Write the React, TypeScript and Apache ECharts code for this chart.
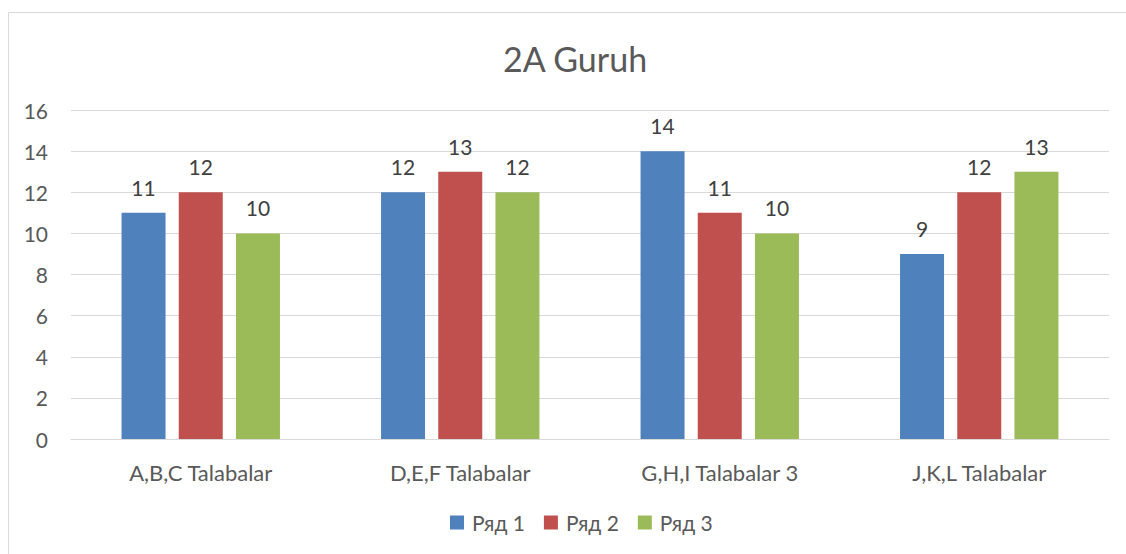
import React, { useEffect, useRef } from "react";
import * as echarts from "echarts";

const categories = ["A,B,C Talabalar", "D,E,F Talabalar", "G,H,I Talabalar 3", "J,K,L Talabalar"];
const seriesNames = ["Ряд 1", "Ряд 2", "Ряд 3"];
const series1 = [11, 12, 14, 9];
const series2 = [12, 13, 11, 12];
const series3 = [10, 12, 10, 13];
const colors = ["#4F81BD", "#C0504D", "#9BBB59"];
const FONT = "Lato, 'Open Sans', 'Noto Sans', sans-serif";

export default function App() {
  const ref = useRef<HTMLDivElement>(null);
  useEffect(() => {
    document.body.style.margin = "0";
    if (!ref.current) return;
    const chart = echarts.init(ref.current, null, { renderer: "svg" });
    const data = [series1, series2, series3];
    chart.setOption({
      animation: false,
      backgroundColor: "#ffffff",
      title: {
        text: "2A Guruh",
        left: 498,
        top: 36,
        textStyle: { fontFamily: FONT, fontSize: 34, fontWeight: "normal", color: "#595959" },
      },
      graphic: [
        {
          type: "rect",
          shape: { x: 8.5, y: 12.5, width: 1130, height: 560 },
          style: { fill: "none", stroke: "#d9d9d9", lineWidth: 1 },
          silent: true,
          z: -1,
        },
      ],
      legend: {
        bottom: 16,
        left: 445,
        itemWidth: 14,
        itemHeight: 14,
        itemGap: 19,
        icon: "rect",
        textStyle: { fontFamily: FONT, fontSize: 21, color: "#595959", padding: [0, 0, 0, 3] },
        data: seriesNames,
      },
      grid: { left: 71, right: 17, top: 110, bottom: 115 },
      xAxis: {
        type: "category",
        data: categories,
        axisLine: { lineStyle: { color: "#d9d9d9" } },
        axisTick: { show: false },
        axisLabel: { fontFamily: FONT, fontSize: 22, color: "#595959", margin: 22 },
      },
      yAxis: {
        type: "value",
        min: 0,
        max: 16,
        interval: 2,
        axisLine: { show: false },
        axisTick: { show: false },
        splitLine: { lineStyle: { color: "#d9d9d9" } },
        axisLabel: { fontFamily: FONT, fontSize: 21, color: "#595959", margin: 23 },
      },
      series: data.map((d, i) => ({
        name: seriesNames[i],
        type: "bar",
        data: d,
        barWidth: 44,
        barGap: "30%",
        itemStyle: { color: colors[i] },
        label: {
          show: true,
          position: "top",
          distance: 15,
          fontFamily: FONT,
          fontSize: 21,
          color: "#404040",
        },
      })),
    });
    return () => chart.dispose();
  }, []);
  return <div ref={ref} style={{ width: 1126, height: 554 }} />;
}
